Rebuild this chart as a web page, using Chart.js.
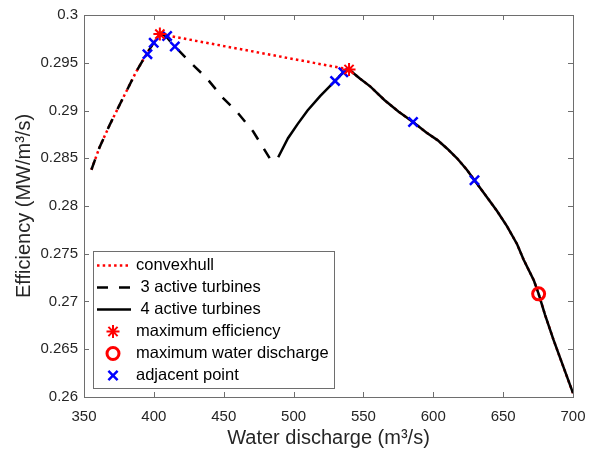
<!DOCTYPE html>
<html>
<head>
<meta charset="utf-8">
<script src="https://cdn.jsdelivr.net/npm/chart.js@4.4.1/dist/chart.umd.min.js"></script>
<style>
  body { margin: 0; background: #fff; }
</style>
</head>
<body>
<canvas id="chart" width="605" height="455"></canvas>
<script>
// 3 active turbines
const threeX = [355.3, 361, 368.4, 377.9, 387.5, 394.7, 399.9, 405.5, 408.5, 415, 425.7, 437.7, 449.6, 459.2, 471.1, 478.3, 485]
const threeY = [0.2838, 0.2861, 0.2885, 0.2913, 0.2941, 0.2959, 0.2971, 0.2980, 0.2978, 0.2967, 0.2951, 0.2934, 0.2913, 0.2899, 0.2878, 0.2861, 0.2845]

// 4 active turbines
const fourX = [489, 496, 503, 510, 519, 529.7, 535.6, 539.7, 547, 555, 565, 575, 585.5, 595, 603, 610, 617, 624, 630, 640, 645.5, 652.7, 660, 664.6, 672, 675.4, 680, 686, 693, 700]
const fourY = [0.2851, 0.2871, 0.2886, 0.2900, 0.2915, 0.2931, 0.2940, 0.2943, 0.2934, 0.2925, 0.2911, 0.2899, 0.2888, 0.2877, 0.2869, 0.2860, 0.2850, 0.2838, 0.2826, 0.2806, 0.2795, 0.2779, 0.2760, 0.2744, 0.2722, 0.2708, 0.2686, 0.2660, 0.2632, 0.2604]

// convex hull over both curves
const hullX = [355.3, 361, 368.4, 377.9, 387.5, 394.7, 399.9, 404.3, 539.7, 547, 555, 565, 575, 585.5, 595, 603, 610, 617, 624, 630, 640, 645.5, 652.7, 660, 664.6, 672, 675.4, 680, 686, 693, 700]
const hullY = [0.2838, 0.2861, 0.2885, 0.2913, 0.2941, 0.2959, 0.2971, 0.2980, 0.2943, 0.2934, 0.2925, 0.2911, 0.2899, 0.2888, 0.2877, 0.2869, 0.2860, 0.2850, 0.2838, 0.2826, 0.2806, 0.2795, 0.2779, 0.2760, 0.2744, 0.2722, 0.2708, 0.2686, 0.2660, 0.2632, 0.2604]

const maxEffX = [404.3, 539.7]
const maxEffY = [0.2980, 0.2943]

const maxDisX = [675.4]
const maxDisY = [0.2708]

const adjX = [395.4, 399.9, 409.5, 415, 529.7, 535.6, 585.5, 629.5]
const adjY = [0.2959, 0.2971, 0.2978, 0.2967, 0.2931, 0.2940, 0.2888, 0.2827]

const xTicks = [350, 400, 450, 500, 550, 600, 650, 700]
const yTicks = [0.26, 0.265, 0.27, 0.275, 0.28, 0.285, 0.29, 0.295, 0.3]

const FONT = '"Liberation Sans", Arial, sans-serif'
const TEXT = '#262626'
const EDGE = '#6e6e6e'

const toPoints = (xs, ys) => xs.map((x, i) => ({ x, y: ys[i] }))

// box round the plot with inward ticks on every side
const frame = {
  id: 'frame',
  afterDatasetsDraw (chart) {
    const { ctx, chartArea: a, scales } = chart
    ctx.save()
    ctx.strokeStyle = EDGE
    ctx.lineWidth = 1
    ctx.strokeRect(Math.round(a.left) + 0.5, Math.round(a.top) + 0.5, Math.round(a.right - a.left), Math.round(a.bottom - a.top))
    ctx.beginPath()
    xTicks.forEach(v => {
      const px = Math.round(scales.x.getPixelForValue(v)) + 0.5
      ctx.moveTo(px, a.bottom); ctx.lineTo(px, a.bottom - 5)
      ctx.moveTo(px, a.top); ctx.lineTo(px, a.top + 5)
    })
    yTicks.forEach(v => {
      const py = Math.round(scales.y.getPixelForValue(v)) + 0.5
      ctx.moveTo(a.left, py); ctx.lineTo(a.left + 5, py)
      ctx.moveTo(a.right, py); ctx.lineTo(a.right - 5, py)
    })
    ctx.stroke()
    ctx.restore()
  }
}

// legend box in the lower left corner of the plot
const boxLegend = {
  id: 'boxLegend',
  afterDraw (chart) {
    const { ctx } = chart
    const left = 93.5, top = 251.5, w = 241, h = 137
    ctx.save()
    ctx.fillStyle = '#fff'
    ctx.fillRect(left, top, w, h)
    ctx.strokeStyle = EDGE
    ctx.lineWidth = 1
    ctx.strokeRect(left, top, w, h)
    ctx.font = '16.5px ' + FONT
    ctx.textBaseline = 'middle'
    chart.data.datasets.forEach((ds, i) => {
      const y = top + 14 + i * 22
      if (ds.showLine) {
        ctx.strokeStyle = ds.borderColor
        ctx.lineWidth = ds.borderWidth
        ctx.setLineDash(ds.borderDash || [])
        ctx.beginPath()
        ctx.moveTo(97, y); ctx.lineTo(131, y)
        ctx.stroke()
        ctx.setLineDash([])
      } else {
        ctx.strokeStyle = ds.borderColor
        ctx.fillStyle = '#fff'
        ctx.lineWidth = ds.borderWidth
        Chart.helpers.drawPoint(ctx, { pointStyle: ds.pointStyle, radius: ds.pointRadius, rotation: 0, borderWidth: ds.borderWidth }, 113, y)
      }
      ctx.fillStyle = '#000'
      ctx.fillText(ds.label, 136, y)
    })
    ctx.restore()
  }
}

new Chart(document.getElementById('chart'), {
  type: 'scatter',
  data: {
    datasets: [
      {
        label: 'convexhull',
        data: toPoints(hullX, hullY),
        showLine: true,
        borderColor: '#ff0000',
        borderWidth: 2.5,
        borderDash: [2.5, 3.2],
        pointRadius: 0,
        order: 3
      },
      {
        label: ' 3 active turbines',
        data: toPoints(threeX, threeY),
        showLine: true,
        borderColor: '#000',
        borderWidth: 2.5,
        borderDash: [11, 11],
        pointRadius: 0,
        order: 2
      },
      {
        label: ' 4 active turbines',
        data: toPoints(fourX, fourY),
        showLine: true,
        borderColor: '#000',
        borderWidth: 2.5,
        pointRadius: 0,
        order: 1
      },
      {
        label: 'maximum efficiency',
        data: toPoints(maxEffX, maxEffY),
        pointStyle: 'star',
        pointRadius: 6.5,
        borderColor: '#ff0000',
        borderWidth: 2,
        order: 0
      },
      {
        label: 'maximum water discharge',
        data: toPoints(maxDisX, maxDisY),
        pointStyle: 'circle',
        pointRadius: 6,
        borderColor: '#ff0000',
        backgroundColor: 'rgba(0,0,0,0)',
        borderWidth: 3,
        order: 0
      },
      {
        label: 'adjacent point',
        data: toPoints(adjX, adjY),
        pointStyle: 'crossRot',
        pointRadius: 6.5,
        borderColor: '#0000ff',
        borderWidth: 2.5,
        order: 0
      }
    ]
  },
  options: {
    responsive: false,
    animation: false,
    layout: { padding: { left: 0, top: 13, right: 32, bottom: 0 } },
    plugins: {
      legend: { display: false },
      tooltip: { enabled: false }
    },
    scales: {
      x: {
        type: 'linear',
        min: 350,
        max: 700,
        afterFit: s => { s.height = 58 },
        afterBuildTicks: s => { s.ticks = xTicks.map(value => ({ value })) },
        grid: { display: false, drawTicks: false },
        border: { display: false },
        ticks: { color: TEXT, font: { family: FONT, size: 15 }, padding: 11 },
        title: { display: true, text: 'Water discharge (m³/s)', color: TEXT, font: { family: FONT, size: 20 }, padding: { top: 0, bottom: 5 } }
      },
      y: {
        min: 0.26,
        max: 0.3,
        afterFit: s => { s.width = 84 },
        afterBuildTicks: s => { s.ticks = yTicks.map(value => ({ value })) },
        grid: { display: false, drawTicks: false },
        border: { display: false },
        ticks: { color: TEXT, font: { family: FONT, size: 15 }, padding: 6, callback: v => String(+v.toFixed(3)) },
        title: { display: true, text: 'Efficiency (MW/m³/s)', color: TEXT, font: { family: FONT, size: 20 }, padding: { top: 12, bottom: 0 } }
      }
    }
  },
  plugins: [frame, boxLegend]
})
</script>
</body>
</html>
